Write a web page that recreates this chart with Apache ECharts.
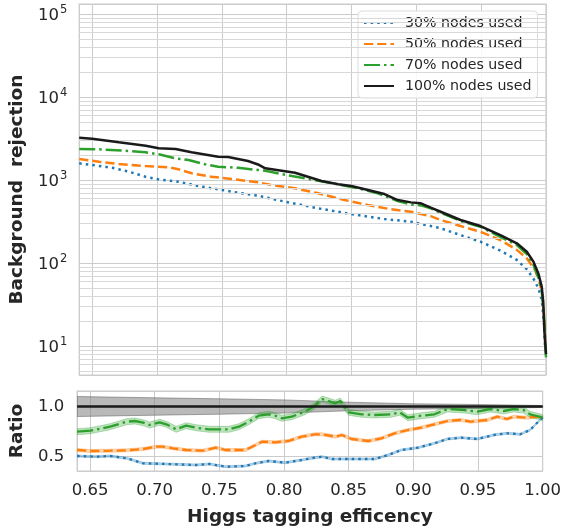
<!DOCTYPE html>
<html>
<head>
<meta charset="utf-8">
<script src="https://cdn.jsdelivr.net/npm/echarts@6/dist/echarts.min.js"></script>
<style>
html, body { margin: 0; padding: 0; background: #fff; }
#chart { width: 564px; height: 530px; }
</style>
</head>
<body>
<div id="chart"></div>
<script>
// legend names
var names = ['30% nodes used', '50% nodes used', '70% nodes used', '100% nodes used'];

// background rejection vs efficiency
var rej30 = [[0.640, 1590], [0.650, 1517], [0.6655, 1406], [0.6783, 1259], [0.6911, 1096], [0.7013, 1019],
    [0.7166, 955], [0.7319, 847], [0.7472, 773], [0.7625, 703], [0.7779, 647], [0.7988, 548], [0.8244, 456],
    [0.8499, 389], [0.8754, 339], [0.8958, 315], [0.9035, 295], [0.9111, 279], [0.9188, 262], [0.9341, 217],
    [0.9494, 181], [0.9648, 141], [0.9775, 109], [0.9852, 84], [0.9903, 65], [0.9941, 50], [0.9967, 36],
    [0.9985, 18.8], [0.9992, 10], [1.0, 9]];
var rej50 = [[0.640, 1791], [0.6553, 1661], [0.6706, 1560], [0.6911, 1475], [0.7089, 1423], [0.7166, 1345],
    [0.7268, 1205], [0.7421, 1096], [0.7574, 1028], [0.7779, 938], [0.7886, 871], [0.8064, 794], [0.8244, 692],
    [0.8447, 574], [0.8627, 500], [0.8805, 444], [0.8958, 415], [0.9035, 389], [0.9111, 368], [0.9188, 330],
    [0.9341, 279], [0.9494, 238], [0.9648, 189], [0.9775, 144], [0.9852, 114], [0.9916, 82], [0.9949, 60],
    [0.9975, 39], [0.9990, 18.8], [0.9995, 9.5], [1.0, 8.5]];
var rej70 = [[0.640, 2362], [0.6553, 2344], [0.6783, 2235], [0.6911, 2157], [0.7013, 2040], [0.7141, 1825],
    [0.7243, 1742], [0.7370, 1546], [0.7472, 1446], [0.7625, 1406], [0.7779, 1320], [0.7835, 1294], [0.8039, 1117],
    [0.8244, 981], [0.8397, 888], [0.8550, 794], [0.8703, 692], [0.8856, 558], [0.8958, 509], [0.9035, 495],
    [0.9111, 455], [0.9188, 404], [0.9341, 321], [0.9494, 274], [0.9648, 207], [0.9775, 165], [0.9852, 128],
    [0.9903, 95], [0.9941, 67], [0.9967, 47], [0.9985, 22.5], [1.0, 7.3]];
var rej100 = [[0.640, 3236], [0.650, 3150], [0.6706, 2847], [0.6913, 2588], [0.7013, 2410], [0.7143, 2363],
    [0.7266, 2157], [0.7472, 1910], [0.7549, 1893], [0.7702, 1694], [0.7779, 1540], [0.7835, 1384], [0.8064, 1224],
    [0.8269, 975], [0.8397, 888], [0.8499, 847], [0.8627, 758], [0.8754, 678], [0.8856, 574], [0.8958, 538],
    [0.9035, 524], [0.9111, 464], [0.9188, 415], [0.9341, 330], [0.9494, 279], [0.9648, 217], [0.9775, 173],
    [0.9852, 137], [0.9903, 104], [0.9941, 75], [0.9967, 52], [0.9979, 33], [0.9987, 15.6], [1.0, 8]];

// ratio to the 100% curve, lower panel
var ratio30 = [[0.640, 0.505], [0.6553, 0.498], [0.6655, 0.505], [0.6783, 0.482], [0.6911, 0.432], [0.7089, 0.425],
    [0.7166, 0.422], [0.7319, 0.415], [0.7421, 0.425], [0.7549, 0.398], [0.7702, 0.405], [0.7779, 0.432],
    [0.7881, 0.455], [0.8008, 0.438], [0.8136, 0.465], [0.8238, 0.488], [0.8294, 0.498], [0.8371, 0.475],
    [0.8499, 0.475], [0.8703, 0.475], [0.8805, 0.515], [0.8907, 0.565], [0.9035, 0.588], [0.9163, 0.632],
    [0.9265, 0.675], [0.9367, 0.688], [0.9494, 0.675], [0.9622, 0.715], [0.9724, 0.732], [0.9826, 0.722],
    [0.9903, 0.765], [0.9954, 0.832], [1.0, 0.89]];
var ratio50 = [[0.640, 0.565], [0.6502, 0.555], [0.6655, 0.558], [0.6783, 0.562], [0.6911, 0.575], [0.7013, 0.598],
    [0.7064, 0.598], [0.7141, 0.582], [0.7243, 0.565], [0.7370, 0.558], [0.7472, 0.588], [0.7549, 0.565],
    [0.7702, 0.565], [0.7753, 0.598], [0.7830, 0.648], [0.7932, 0.642], [0.8034, 0.655], [0.8136, 0.698],
    [0.8238, 0.722], [0.8294, 0.722], [0.8397, 0.698], [0.8447, 0.715], [0.8524, 0.675], [0.8652, 0.655],
    [0.8754, 0.682], [0.8856, 0.732], [0.8958, 0.765], [0.9060, 0.788], [0.9163, 0.822], [0.9265, 0.855],
    [0.9367, 0.865], [0.9443, 0.848], [0.9571, 0.865], [0.9648, 0.898], [0.9724, 0.875], [0.9775, 0.898],
    [0.9877, 0.888], [0.9954, 0.898], [1.0, 0.89]];
var ratio70 = [[0.640, 0.748], [0.6502, 0.758], [0.6655, 0.798], [0.6783, 0.848], [0.6847, 0.855], [0.6911, 0.838],
    [0.6961, 0.815], [0.7038, 0.842], [0.7089, 0.822], [0.7166, 0.772], [0.7243, 0.808], [0.7319, 0.788],
    [0.7421, 0.772], [0.7574, 0.772], [0.7651, 0.798], [0.7727, 0.848], [0.7804, 0.908], [0.7881, 0.922],
    [0.7932, 0.908], [0.7983, 0.882], [0.8060, 0.898], [0.8162, 0.948], [0.8238, 1.008], [0.8294, 1.075],
    [0.8345, 1.055], [0.8397, 1.032], [0.8435, 1.055], [0.8499, 0.942], [0.8601, 0.922], [0.8703, 0.915],
    [0.8830, 0.922], [0.8895, 0.942], [0.8958, 0.888], [0.9060, 0.908], [0.9163, 0.922], [0.9265, 0.975],
    [0.9393, 0.965], [0.9494, 0.948], [0.9596, 0.975], [0.9699, 0.955], [0.9775, 0.975], [0.9852, 0.965],
    [0.9903, 0.922], [1.0, 0.89]];
var ratio100 = [[0.640, 1.0], [1.0, 1.0]];

// uncertainty band half widths
var greyHalf = [[0.64, 0.10], [0.70, 0.087], [0.75, 0.077], [0.80, 0.066], [0.85, 0.043], [0.90, 0.027],
    [0.95, 0.02], [1.0, 0.01]];
var bandHalf30 = 0.01;
var bandHalf50 = 0.015;
var bandHalf70 = 0.03;

var colors = ['#1f77b4', '#ff7f0e', '#2ca02c', '#1a1a1a'];
var dashes = [[2.5, 4.1], [9.2, 4], [16, 4, 2.5, 4], 'solid'];
var ink = '#262626';
var font = 'DejaVu Sans';

function band(rows, half) {
    return rows.map(function (r) {
        var h = typeof half === 'number' ? half : r[2];
        return [r[0], r[1] - h, r[1] + h];
    });
}

function bandSeries(data, fill, stroke) {
    return {
        type: 'custom',
        xAxisIndex: 1,
        yAxisIndex: 1,
        silent: true,
        clip: true,
        z: 1,
        data: data,
        encode: { x: 0, y: [1, 2] },
        renderItem: function (params, api) {
            if (params.dataIndex !== 0) {
                return;
            }
            var top = [], bottom = [];
            for (var i = 0; i < data.length; i++) {
                top.push(api.coord([data[i][0], data[i][2]]));
                bottom.unshift(api.coord([data[i][0], data[i][1]]));
            }
            return {
                type: 'polygon',
                shape: { points: top.concat(bottom) },
                style: { fill: fill, stroke: stroke, lineWidth: 1 }
            };
        }
    };
}

// minor gridlines of the log axis
var minorLines = [];
for (var k = 0; k <= 5; k++) {
    for (var m = 2; m <= 9; m++) {
        var v = m * Math.pow(10, k);
        if (v > 4.5 && v < 1.3e5) {
            minorLines.push({ yAxis: v });
        }
    }
}

var greyRows = greyHalf.map(function (g) { return [g[0], ratio100[0][1], g[1]]; });

var series = [{
    type: 'line',
    xAxisIndex: 0,
    yAxisIndex: 0,
    data: [],
    silent: true,
    z: 1,
    markLine: {
        silent: true,
        symbol: 'none',
        label: { show: false },
        lineStyle: { color: '#d8d8d8', width: 1, type: 'solid' },
        data: minorLines
    }
}];

var topData = [rej30, rej50, rej70, rej100];
var ratioData = [ratio30, ratio50, ratio70];
topData.forEach(function (d, i) {
    series.push({
        name: names[i],
        type: 'line',
        xAxisIndex: 0,
        yAxisIndex: 0,
        data: d,
        symbol: 'none',
        z: 3 + i,
        lineStyle: { color: colors[i], width: 2.5, type: dashes[i], cap: 'butt' },
        itemStyle: { color: colors[i] }
    });
});

series.push(bandSeries(band(greyRows), 'rgba(128,128,128,0.55)', 'rgba(90,90,90,0.5)'));
series.push(bandSeries(band(ratio30, bandHalf30), 'rgba(31,119,180,0.3)', 'rgba(31,119,180,0.3)'));
series.push(bandSeries(band(ratio50, bandHalf50), 'rgba(255,127,14,0.3)', 'rgba(255,127,14,0.3)'));
series.push(bandSeries(band(ratio70, bandHalf70), 'rgba(44,160,44,0.3)', 'rgba(44,160,44,0.3)'));

ratioData.forEach(function (d, i) {
    series.push({
        name: names[i],
        type: 'line',
        xAxisIndex: 1,
        yAxisIndex: 1,
        data: d,
        symbol: 'none',
        z: 3 + i,
        lineStyle: { color: colors[i], width: 2.3, type: dashes[i], cap: 'butt' },
        itemStyle: { color: colors[i] }
    });
});
series.push({
    name: names[3],
    type: 'line',
    xAxisIndex: 1,
    yAxisIndex: 1,
    data: ratio100,
    symbol: 'none',
    z: 6,
    lineStyle: { color: colors[3], width: 2.3 },
    itemStyle: { color: colors[3] }
});

var gridLine = { show: true, lineStyle: { color: '#cccccc', width: 1 } };

function xAxisFor(idx, withLabels) {
    return {
        type: 'value',
        gridIndex: idx,
        min: 0.64,
        max: 1.0,
        splitNumber: 7,
        axisLine: { show: false },
        axisTick: { show: false },
        splitLine: gridLine,
        axisLabel: {
            show: withLabels,
            margin: 11,
            fontSize: 16.5,
            fontFamily: font,
            color: ink,
            formatter: function (v) {
                var s = v / 0.05;
                if (Math.abs(s - Math.round(s)) > 1e-6) {
                    return '';
                }
                return v.toFixed(2);
            }
        },
        name: withLabels ? 'Higgs tagging efficency' : '',
        nameLocation: 'middle',
        nameGap: 37,
        nameTextStyle: { fontSize: 18.5, fontWeight: 'bold', color: ink, fontFamily: font }
    };
}

var chart = echarts.init(document.getElementById('chart'));
chart.setOption({
    animation: false,
    backgroundColor: '#fff',
    grid: [
        { left: 76, top: 4, width: 470, height: 371, show: true, borderColor: '#cccccc', borderWidth: 1.2, backgroundColor: 'transparent' },
        { left: 76, top: 391, width: 470, height: 80, show: true, borderColor: '#cccccc', borderWidth: 1.2, backgroundColor: 'transparent' }
    ],
    legend: {
        orient: 'vertical',
        left: 358,
        top: 11,
        data: names,
        itemWidth: 30,
        itemHeight: 14,
        itemGap: 7,
        padding: [5, 6, 5, 5],
        backgroundColor: 'rgba(255,255,255,0.85)',
        borderColor: '#dddddd',
        borderWidth: 1,
        borderRadius: 4,
        itemStyle: { color: 'rgba(0,0,0,0)', borderWidth: 0, borderColor: 'rgba(0,0,0,0)' },
        textStyle: { fontSize: 14.2, color: ink, fontFamily: font, padding: [0, 0, 0, 6] }
    },
    xAxis: [xAxisFor(0, false), xAxisFor(1, true)],
    yAxis: [{
        type: 'log',
        gridIndex: 0,
        logBase: 10,
        min: 4.48,
        max: 1.32e5,
        axisLine: { show: false },
        axisTick: { show: false },
        splitLine: gridLine,
        axisLabel: {
            margin: 12,
            formatter: function (v) {
                var e = Math.log10(v);
                if (Math.abs(e - Math.round(e)) > 1e-6) {
                    return '';
                }
                return '{b|10}{s|' + Math.round(e) + '}';
            },
            rich: {
                b: { fontSize: 16.5, color: ink, fontFamily: font, verticalAlign: 'bottom' },
                s: { fontSize: 11.5, color: ink, fontFamily: font, verticalAlign: 'top', padding: [0, 0, 8, 1] }
            }
        },
        name: 'Background  rejection',
        nameLocation: 'middle',
        nameGap: 45,
        nameTextStyle: { fontSize: 18.5, fontWeight: 'bold', color: ink, fontFamily: font }
    }, {
        type: 'value',
        gridIndex: 1,
        min: 0.355,
        max: 1.155,
        splitNumber: 2,
        axisLine: { show: false },
        axisTick: { show: false },
        splitLine: gridLine,
        axisLabel: {
            margin: 13,
            fontSize: 16.5,
            fontFamily: font,
            color: ink,
            formatter: function (v) {
                var s = v * 2;
                if (Math.abs(s - Math.round(s)) > 1e-6) {
                    return '';
                }
                return v.toFixed(1);
            }
        },
        name: 'Ratio',
        nameLocation: 'middle',
        nameGap: 43,
        nameTextStyle: { fontSize: 18.5, fontWeight: 'bold', color: ink, fontFamily: font }
    }],
    series: series
});
</script>
</body>
</html>
